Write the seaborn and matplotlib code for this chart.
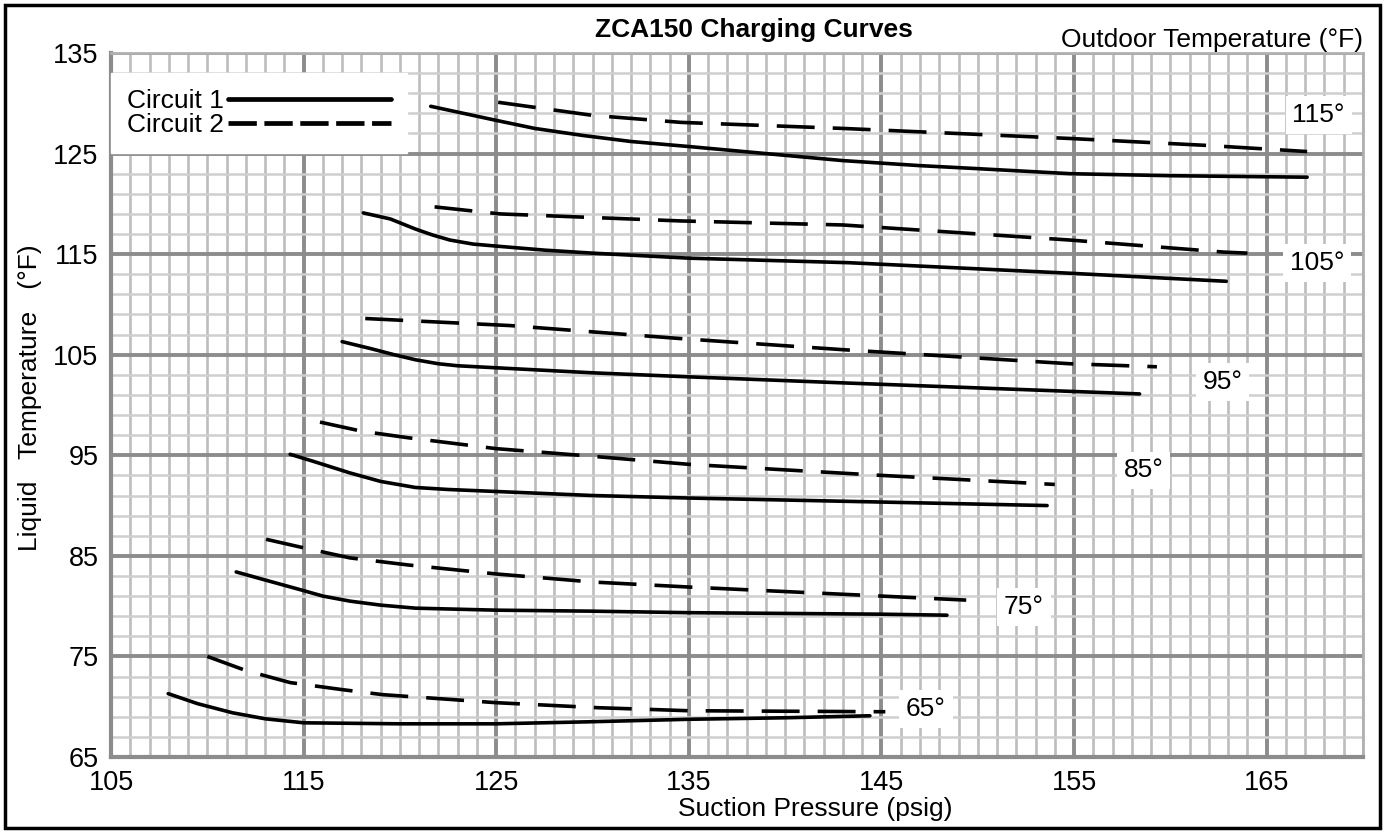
import numpy as np
import pandas as pd
import seaborn as sns
import matplotlib.pyplot as plt
from matplotlib.patches import Rectangle

# outdoor temperatures (deg F) for each curve pair
outdoor = [65, 75, 85, 95, 105, 115]

# Circuit 1 (solid) suction pressure / liquid temperature
c1_x = {
    65: [107.97, 109.5, 111.3, 113, 115, 120, 125, 129.8, 135, 140, 144.4],
    75: [111.5, 113, 114.8, 116, 117.4, 119, 120.8, 125, 130, 135, 145, 148.4],
    85: [114.3, 115.5, 117.4, 119, 120.8, 122.5, 125, 130, 135, 145, 153.6],
    95: [117.0, 118.5, 119.7, 120.8, 122, 123, 125, 130, 135, 143, 150, 158.4],
    105: [118.1, 119.5, 120.8, 121.7, 122.6, 123.8, 125, 127.5, 130, 135, 143.3, 154.8, 162.9],
    115: [121.6, 125, 127, 129.5, 132, 135, 139, 143, 147, 150, 154.8, 160, 167.1],
}
c1_y = {
    65: [71.3, 70.3, 69.4, 68.8, 68.4, 68.3, 68.3, 68.5, 68.75, 68.9, 69.1],
    75: [83.4, 82.6, 81.65, 81.0, 80.5, 80.1, 79.8, 79.6, 79.5, 79.35, 79.2, 79.1],
    85: [95.1, 94.4, 93.25, 92.4, 91.8, 91.6, 91.4, 91.0, 90.75, 90.35, 90.0],
    95: [106.3, 105.6, 105.0, 104.5, 104.1, 103.9, 103.7, 103.2, 102.8, 102.2, 101.7, 101.1],
    105: [119.1, 118.5, 117.5, 116.9, 116.4, 116.0, 115.8, 115.4, 115.1, 114.6, 114.15, 113.1, 112.3],
    115: [129.7, 128.3, 127.5, 126.8, 126.2, 125.7, 125.0, 124.3, 123.8, 123.5, 123.0, 122.8, 122.65],
}

# Circuit 2 (dashed)
c2_x = {
    65: [110.0, 112, 114.3, 117, 119.1, 125, 130.3, 135, 145.2],
    75: [113.05, 115, 117.4, 120.4, 125, 130, 135, 145, 149.4],
    85: [115.85, 118, 120.4, 125, 130, 135, 145, 154.0],
    95: [118.2, 125.7, 134.6, 143, 154.8, 159.3],
    105: [121.8, 125.2, 134.6, 143, 154.8, 162.8, 164.0],
    115: [125.1, 130, 134.6, 143, 154.8, 162, 167.1],
}
c2_y = {
    65: [75.0, 73.6, 72.4, 71.7, 71.2, 70.4, 69.9, 69.6, 69.5],
    75: [86.65, 85.8, 84.8, 84.1, 83.2, 82.4, 81.9, 81.0, 80.6],
    85: [98.3, 97.4, 96.75, 95.66, 94.9, 94.1, 93.0, 92.1],
    95: [108.6, 107.9, 106.6, 105.5, 104.1, 103.8],
    105: [119.7, 119.0, 118.3, 117.9, 116.4, 115.2, 115.1],
    115: [130.1, 128.8, 128.1, 127.5, 126.5, 125.8, 125.2],
}

# label spots for the outdoor temperature tags
tag_x = [147.3, 152.4, 158.6, 162.7, 167.6, 167.7]
tag_y = [69.8, 79.9, 93.5, 102.3, 114.1, 128.8]

rows = []
for t in outdoor:
    for px, py in zip(c1_x[t], c1_y[t]):
        rows.append((px, py, 'Circuit 1', t))
    for px, py in zip(c2_x[t], c2_y[t]):
        rows.append((px, py, 'Circuit 2', t))
df = pd.DataFrame(rows, columns=['Suction', 'Liquid', 'Circuit', 'Outdoor'])

sns.set_style('white')
plt.rcParams['font.family'] = ['Liberation Sans', 'DejaVu Sans']
plt.rcParams['text.color'] = 'black'
plt.rcParams['xtick.color'] = 'black'
plt.rcParams['ytick.color'] = 'black'
plt.rcParams['lines.solid_joinstyle'] = 'round'
plt.rcParams['lines.solid_capstyle'] = 'round'

fig = plt.figure(figsize=(13.85, 8.32), dpi=100)
ax = fig.add_axes([111 / 1385, 1 - 757 / 832, (1363 - 111) / 1385, (757 - 53) / 832])

sns.lineplot(data=df, x='Suction', y='Liquid', style='Circuit', units='Outdoor',
             estimator=None, sort=False, color='black', linewidth=2.6,
             dashes={'Circuit 1': '', 'Circuit 2': (10.5, 5)}, ax=ax, zorder=3)

ax.set_xlim(105, 170)
ax.set_ylim(65, 135)
ax.set_xticks(np.arange(105, 166, 10))
ax.set_xticks(np.arange(105, 171, 1), minor=True)
ax.set_yticks(np.arange(65, 136, 10))
ax.set_yticks(np.arange(65, 136, 2), minor=True)
ax.xaxis.grid(True, which='minor', color='#bdbdbd', lw=1.9, zorder=0)
ax.yaxis.grid(True, which='minor', color='#cfcfcf', lw=1.8, zorder=0)
ax.grid(True, which='major', color='#8c8c8c', lw=2.8, zorder=1)
ax.set_axisbelow(True)
ax.tick_params(which='both', length=0, labelsize=19.5, labelcolor='black')
ax.tick_params(axis='x', pad=9)
ax.tick_params(axis='y', pad=9)
ax.set_xlabel('')
ax.set_ylabel('')
for s in ['left', 'bottom']:
    ax.spines[s].set_color('#8c8c8c')
    ax.spines[s].set_linewidth(3)
for s in ['top', 'right']:
    ax.spines[s].set_color('#b0b0b0')
    ax.spines[s].set_linewidth(2)

# temperature tags
for t, tx, ty in zip(outdoor, tag_x, tag_y):
    ax.text(tx, ty, f'{t}°', fontsize=19, ha='center', va='center', zorder=5,
            color='black', bbox=dict(facecolor='white', edgecolor='none', pad=5))

# legend: label first, line after
old = ax.get_legend()
handles = old.legend_handles
labels = [t.get_text() for t in old.get_texts()]
old.remove()
leg = ax.legend(handles, labels, loc='upper left', bbox_to_anchor=(0, 0.9716),
                markerfirst=False, frameon=True, fancybox=False, framealpha=1,
                facecolor='white', edgecolor='white', fontsize=19,
                handlelength=6.2, handletextpad=0.15, labelspacing=0.0,
                borderpad=0.6, borderaxespad=0, labelcolor='black')
leg.set_zorder(6)
for h in leg.legend_handles:
    h.set_linewidth(3.4)
    h.set_color('black')
leg.legend_handles[1].set_dashes((6, 1.6))

fig.text(754 / 1385, 1 - 30 / 832, 'ZCA150 Charging Curves', fontsize=19,
         fontweight='bold', ha='center', va='center', color='black')
fig.text(1363 / 1385, 1 - 40 / 832, 'Outdoor Temperature (°F)', fontsize=19,
         ha='right', va='center', color='black')
fig.text(815 / 1385, 1 - 809 / 832, 'Suction Pressure (psig)', fontsize=19,
         ha='center', va='center', color='black')
fig.text(30 / 1385, 1 - 398 / 832, 'Liquid   Temperature   (°F)', fontsize=19,
         rotation=90, ha='center', va='center', color='black')

# outer frame
fig.patches.append(Rectangle((5 / 1385, 4 / 832), 1375 / 1385, 823 / 832,
                             transform=fig.transFigure, fill=False,
                             edgecolor='black', linewidth=2.5))

fig.savefig('out.png', dpi=100)
